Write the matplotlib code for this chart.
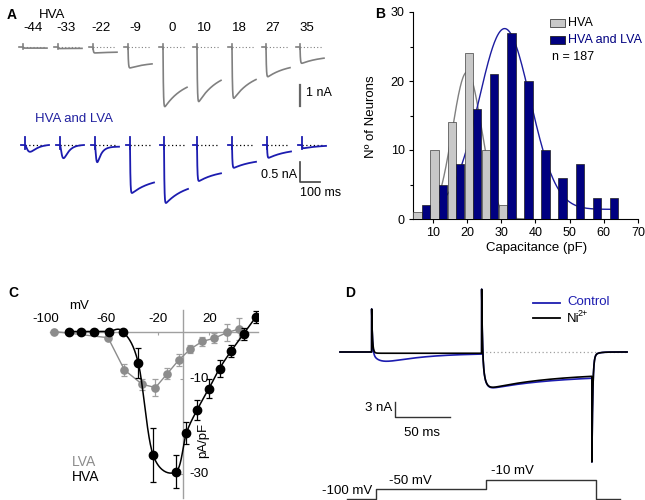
import numpy as np
import matplotlib
matplotlib.use("Agg")
import matplotlib.pyplot as plt
from matplotlib.patches import Rectangle
from matplotlib.lines import Line2D

plt.rcParams['font.family'] = ['Liberation Sans', 'DejaVu Sans']
plt.rcParams['font.size'] = 9

# ---------------- data ----------------
# Panel A: step potentials (mV) and peak / end current amplitudes (nA)
step_labels = ['-44', '-33', '-22', '-9', '0', '10', '18', '27', '35']
hva_peak = [0.05, 0.07, 0.27, 0.95, 2.71, 2.48, 2.33, 1.35, 0.74]
hva_end = [0.05, 0.06, 0.23, 0.74, 1.73, 1.42, 1.39, 0.89, 0.48]
mix_peak = [0.17, 0.33, 0.43, 1.20, 1.45, 0.90, 0.57, 0.32, 0.08]
mix_end = [0.0, 0.0, 0.02, 0.90, 1.05, 0.68, 0.40, 0.15, 0.02]
mix_tau_act = [15, 10, 5, 2, 2, 2, 2, 2, 2]
mix_tau_inact = [35, 25, 20, 100, 100, 100, 100, 100, 100]
mix_power = [2, 2, 2, 1, 1, 1, 1, 1, 1]

# Panel B: histogram of capacitance
cap_bins = [7.5, 12.5, 17.5, 22.5, 27.5, 32.5, 37.5, 42.5, 47.5, 52.5, 57.5, 62.5]
hva_counts = [1, 10, 14, 24, 10, 2, 0, 0, 0, 0, 0, 0]
mix_counts = [2, 5, 8, 16, 21, 27, 20, 10, 6, 8, 3, 3]
hva_fit = dict(amp=21.3, mu=20.0, sigma=4.3, offset=0.0, lo=8.5, hi=37.5)
mix_fit = dict(amp=26.2, mu=31.0, sigma=7.5, offset=1.4, lo=8.5, hi=63.0)

# Panel C: I-V relations (pA/pF)
hva_v = [-89, -79, -69, -58, -47, -35, -23.5, -5.7, 2.3, 10.6, 19.6, 28, 37, 46.7, 56]
hva_i = [0, 0, 0, 0, 0, -6.6, -26.0, -29.5, -21.4, -16.5, -12.1, -7.8, -4.1, -0.5, 3.0]
hva_err = [0, 0, 0, 0, 0, 3.2, 5.7, 3.5, 2.3, 2.1, 2.0, 1.7, 1.3, 1.2, 1.3]
lva_v = [-100, -58.4, -45.7, -32, -21.7, -12.6, -3.6, 5.4, 14.5, 24, 33.9, 42.9]
lva_i = [0, -1.3, -8.1, -11.1, -11.8, -8.9, -6.0, -3.7, -2.1, -1.4, -0.2, 0.5]
lva_err = [0, 0, 1.2, 1.2, 1.75, 1.2, 1.2, 0.9, 0.9, 1.0, 1.8, 2.3]

# Panel D: currents (nA) and protocol (mV, ms)
t_on1, t_on2, t_off, t_end = 28.8, 128.8, 229.0, 261.0
spike1, spike2, tail_peak = 8.6, 12.8, -22.0
ctrl = dict(lva=1.6, hva_peak=6.9, hva_end=4.6, leak=-0.25)
ni = dict(lva=0.0, hva_peak=6.8, hva_end=4.2, leak=-0.25)
prot_t = [2.3, t_on1, t_on2, t_off, 250.5]
prot_v = [-100, -50, -10, -100]

# ---------------- helpers ----------------
W, H = 645, 500
fig = plt.figure(figsize=(6.45, 5.0), dpi=100)


def box(x0, y0, x1, y1):
    ax = fig.add_axes([x0 / W, 1 - y1 / H, (x1 - x0) / W, (y1 - y0) / H])
    return ax


def ftext(x, y, s, **kw):
    kw.setdefault('va', 'center')
    fig.text(x / W, 1 - y / H, s, **kw)


def fline(xs, ys, **kw):
    fig.add_artist(Line2D([x / W for x in xs], [1 - y / H for y in ys], **kw))


def current(t, peak, end, ta, ti, n, T=120.0):
    s = np.clip(t, 0, None)
    act = (1 - np.exp(-s / ta)) ** n
    e = np.exp(-T / ti)
    q = end / peak
    r = (q - e) / (1 - e)
    g = act * (r + (1 - r) * np.exp(-s / ti))
    return -peak * g / g.max()


BLUE = '#1c1cb0'
GRAY = '#808080'

# ---------------- Panel A ----------------
tt = np.linspace(-20, 120, 700)
axA1 = box(0, 30, 330, 130)
axA1.set_xlim(0, 1650)
axA1.set_ylim(-83 / 22, 17 / 22)
axA1.axis('off')
hva_t0 = [115, 290, 465, 640, 815, 985, 1160, 1330, 1500]
for k in range(len(step_labels)):
    t0 = hva_t0[k]
    y = current(tt, hva_peak[k], hva_end[k], 2.0, 100.0, 1)
    axA1.plot([t0, t0 + 110], [0, 0], color=GRAY, lw=0.8, ls=(0, (1, 2)))
    axA1.plot(t0 + tt, y, color=GRAY, lw=1.2, solid_joinstyle='round')
    axA1.plot([t0, t0], [0.15, -0.1], color=GRAY, lw=1.2)
axA1.plot([1500, 1500], [-38 / 22, -59 / 22], color='#666666', lw=1.6, clip_on=False)
axA1.text(1530, -46 / 22, '1 nA', ha='left', va='center', fontsize=9, clip_on=False)

axA2 = box(0, 120, 330, 215)
axA2.set_xlim(0, 1650)
axA2.set_ylim(-70 / 40, 25 / 40)
axA2.axis('off')
mix_t0 = [125, 300, 475, 650, 820, 985, 1160, 1335, 1510]
for k in range(len(step_labels)):
    t0 = mix_t0[k]
    y = current(tt, mix_peak[k], mix_end[k], mix_tau_act[k], mix_tau_inact[k], mix_power[k])
    axA2.plot([t0, t0 + 110], [0, 0], color='black', lw=0.9, ls=(0, (1, 2)))
    axA2.plot(t0 + tt, y, color=BLUE, lw=1.3, solid_joinstyle='round')
    axA2.plot([t0, t0], [0.19, -0.1], color=BLUE, lw=1.3)
axA2.plot([1500, 1500, 1600], [-17 / 40, -37 / 40, -37 / 40], color='#444444', lw=1.2, clip_on=False)
axA2.text(1485, -30 / 40, '0.5 nA', ha='right', va='center', fontsize=9, clip_on=False)
axA2.text(1500, -48 / 40, '100 ms', ha='left', va='center', fontsize=9, clip_on=False)

ftext(7, 15, 'A', fontweight='bold', fontsize=10)
ftext(52, 15, 'HVA', ha='center', fontsize=9.5)
lab_x = [33, 66, 101, 135, 172, 204, 239, 273, 307]
for lx, s in zip(lab_x, step_labels):
    ftext(lx, 28, s, ha='center', fontsize=9.5)
ftext(74, 119, 'HVA and LVA', ha='center', fontsize=9.5, color='#2222a0')

# ---------------- Panel B ----------------
axB = box(413, 12, 638, 219)
c = np.array(cap_bins)
axB.bar(c - 3.2, hva_counts, width=2.45, align='edge', color='#c8c8c8',
        edgecolor='#404040', lw=0.5, zorder=3)
axB.bar(c - 0.75, mix_counts, width=2.45, align='edge', color='#000080',
        edgecolor='#202020', lw=0.5, zorder=3)
for fit, col in ((hva_fit, '#808080'), (mix_fit, '#1c1ca0')):
    xs = np.linspace(fit['lo'], fit['hi'], 300)
    ys = fit['offset'] + fit['amp'] * np.exp(-(xs - fit['mu']) ** 2 / (2 * fit['sigma'] ** 2))
    axB.plot(xs, ys, color=col, lw=1.0, zorder=2)
axB.set_xlim(4.2, 70)
axB.set_ylim(0, 30)
axB.set_xticks([10, 20, 30, 40, 50, 60, 70])
axB.set_yticks([0, 10, 20, 30])
axB.set_yticks([5, 15, 25], minor=True)
axB.tick_params(axis='both', which='major', length=3, width=0.8, labelsize=9, pad=3)
axB.tick_params(axis='y', which='minor', length=2, width=0.8)
for sp in ('top', 'right'):
    axB.spines[sp].set_visible(False)
for sp in ('left', 'bottom'):
    axB.spines[sp].set_linewidth(0.8)
ftext(375, 14, 'B', fontweight='bold', fontsize=10)
ftext(371, 117, 'Nº of Neurons', rotation=90, ha='center', fontsize=9.5)
ftext(537, 248, 'Capacitance (pF)', ha='center', fontsize=9.5)
fig.add_artist(Rectangle((550 / W, 1 - 27 / H), 15 / W, 8 / H, transform=fig.transFigure,
                         facecolor='#c8c8c8', edgecolor='#404040', lw=0.6))
fig.add_artist(Rectangle((550 / W, 1 - 44 / H), 15 / W, 8 / H, transform=fig.transFigure,
                         facecolor='#000080', edgecolor='#202020', lw=0.6))
ftext(568, 23, 'HVA', ha='left', fontsize=9)
ftext(568, 40, 'HVA and LVA', ha='left', fontsize=9, color='#000080')
ftext(552, 57, 'n = 187', ha='left', fontsize=9)

# ---------------- Panel C ----------------
axC = box(50, 310, 258, 498)
axC.set_xlim(-103.4, 57.8)
axC.set_ylim(-35.05, 4.53)
for sp in ('top', 'right'):
    axC.spines[sp].set_visible(False)
axC.spines['left'].set_position(('data', 0))
axC.spines['bottom'].set_position(('data', 0))
for sp in ('left', 'bottom'):
    axC.spines[sp].set_color('#a0a0a0')
    axC.spines[sp].set_linewidth(1.0)
xt = [-100, -60, -20, 20]
yt = [-30, -10]
axC.set_xticks(xt)
axC.set_yticks(yt)
axC.set_xticklabels([])
axC.set_yticklabels([])
axC.tick_params(length=2.5, color='#a0a0a0', width=0.8)
for v in xt:
    dx = -6 if v == -100 else 0
    axC.annotate(str(v), xy=(v, 0), xytext=(dx, 4.5), textcoords='offset points',
                 ha='center', va='bottom', fontsize=9.5)
for v in yt:
    axC.annotate(str(v), xy=(0, v), xytext=(4, 0), textcoords='offset points',
                 ha='left', va='center', fontsize=9.5)

# LVA (gray) polyline
axC.errorbar(lva_v, lva_i, yerr=lva_err, fmt='-o', color='#8c8c8c', ecolor='#a0a0a0',
             ms=5.2, lw=1.0, elinewidth=0.9, capsize=2.2, capthick=0.9, zorder=3)


def catmull_rom(xp, yp, n=40):
    P = np.column_stack([xp, yp]).astype(float)
    P = np.vstack([2 * P[0] - P[1], P, 2 * P[-1] - P[-2]])
    out = []
    s = np.linspace(0, 1, n)
    for i in range(1, len(P) - 2):
        p0, p1, p2, p3 = P[i - 1], P[i], P[i + 1], P[i + 2]
        m1 = (p2 - p0) / 2
        m2 = (p3 - p1) / 2
        h00 = 2 * s**3 - 3 * s**2 + 1
        h10 = s**3 - 2 * s**2 + s
        h01 = -2 * s**3 + 3 * s**2
        h11 = s**3 - s**2
        seg = (h00[:, None] * p1 + h10[:, None] * m1 + h01[:, None] * p2 + h11[:, None] * m2)
        out.append(seg)
    out = np.vstack(out)
    return out[:, 0], out[:, 1]


cx, cy = catmull_rom(hva_v, hva_i)
axC.plot(cx, cy, color='black', lw=1.1, zorder=4)
axC.errorbar(hva_v, hva_i, yerr=hva_err, fmt='o', color='black', ecolor='black',
             ms=6.0, elinewidth=0.9, capsize=2.4, capthick=0.9, zorder=5)
ftext(8, 293, 'C', fontweight='bold', fontsize=10)
ftext(79, 306, 'mV', ha='center', fontsize=9.5)
ftext(203, 440, 'pA/pF', rotation=90, ha='center', fontsize=9.5)
ftext(72, 462, 'LVA', ha='left', fontsize=10, color='#8c8c8c')
ftext(72, 477, 'HVA', ha='left', fontsize=10, color='black')

# ---------------- Panel D ----------------
axD = box(335, 280, 635, 470)
axD.set_xlim(-5 / 1.1, 295 / 1.1)
axD.set_ylim(-118 / 5, 72 / 5)
axD.axis('off')
t = np.arange(0, t_end, 0.05)


def d_trace(p):
    I = np.zeros_like(t)
    m = (t >= t_on1) & (t < t_on2)
    s = t[m] - t_on1
    lva_shape = (1 - np.exp(-s / 8.0)) * np.exp(-s / 35.0)
    I[m] = spike1 * np.exp(-s / 0.7) + p['leak'] * (1 - np.exp(-s / 2.0))
    if p['lva'] > 0:
        I[m] -= p['lva'] * lva_shape / lva_shape.max()
    m = (t >= t_on2) & (t < t_off)
    s = t[m] - t_on2
    ti = 60.0
    e = np.exp(-(t_off - t_on2) / ti)
    q = p['hva_end'] / p['hva_peak']
    r = (q - e) / (1 - e)
    g = (1 - np.exp(-s / 2.5)) * (r + (1 - r) * np.exp(-s / ti))
    I[m] = spike2 * np.exp(-s / 0.7) - p['hva_peak'] * g / g.max() + p['leak']
    m = t >= t_off
    s = t[m] - t_off
    I[m] = (tail_peak + 1.0) * np.exp(-s / 0.8) - 1.0 * np.exp(-s / 4.0)
    return I


axD.plot([129, t_end], [0, 0], color='#a0a0a0', lw=0.9, ls=(0, (1, 2)), zorder=1)
axD.plot(t, d_trace(ctrl), color=BLUE, lw=1.2, zorder=2)
axD.plot(t, d_trace(ni), color='black', lw=1.2, zorder=3)
axD.plot([50, 50, 100], [-10, -13, -13], color='#333333', lw=1.0, clip_on=False)
axD.text(47.3, -11.3, '3 nA', ha='right', va='center', fontsize=9.5)
axD.text(74.5, -16.2, '50 ms', ha='center', va='center', fontsize=9.5)

axP = box(335, 470, 635, 500)
axP.set_xlim(-9.5 / 1.1, 290.5 / 1.1)
axP.set_ylim(-100 - 1 / 0.21, -100 + 29 / 0.21)
axP.axis('off')
axP.step(prot_t, prot_v + [prot_v[-1]], where='post', color='#333333', lw=1.0, clip_on=False)

ftext(345, 293, 'D', fontweight='bold', fontsize=10)
fline([533, 560], [303, 303], color=BLUE, lw=1.3)
fline([533, 560], [318, 318], color='black', lw=1.3)
ftext(567, 302, 'Control', ha='left', fontsize=9.5, color=BLUE)
ftext(567, 319, 'Ni', ha='left', fontsize=9.5, color='black')
ftext(578, 314, '2+', ha='left', fontsize=6.5, color='black')
ftext(322, 491, '-100 mV', ha='left', fontsize=9.5)
ftext(410, 481, '-50 mV', ha='center', fontsize=9.5)
ftext(512, 471, '-10 mV', ha='center', fontsize=9.5)

fig.savefig('out.png', dpi=100)
